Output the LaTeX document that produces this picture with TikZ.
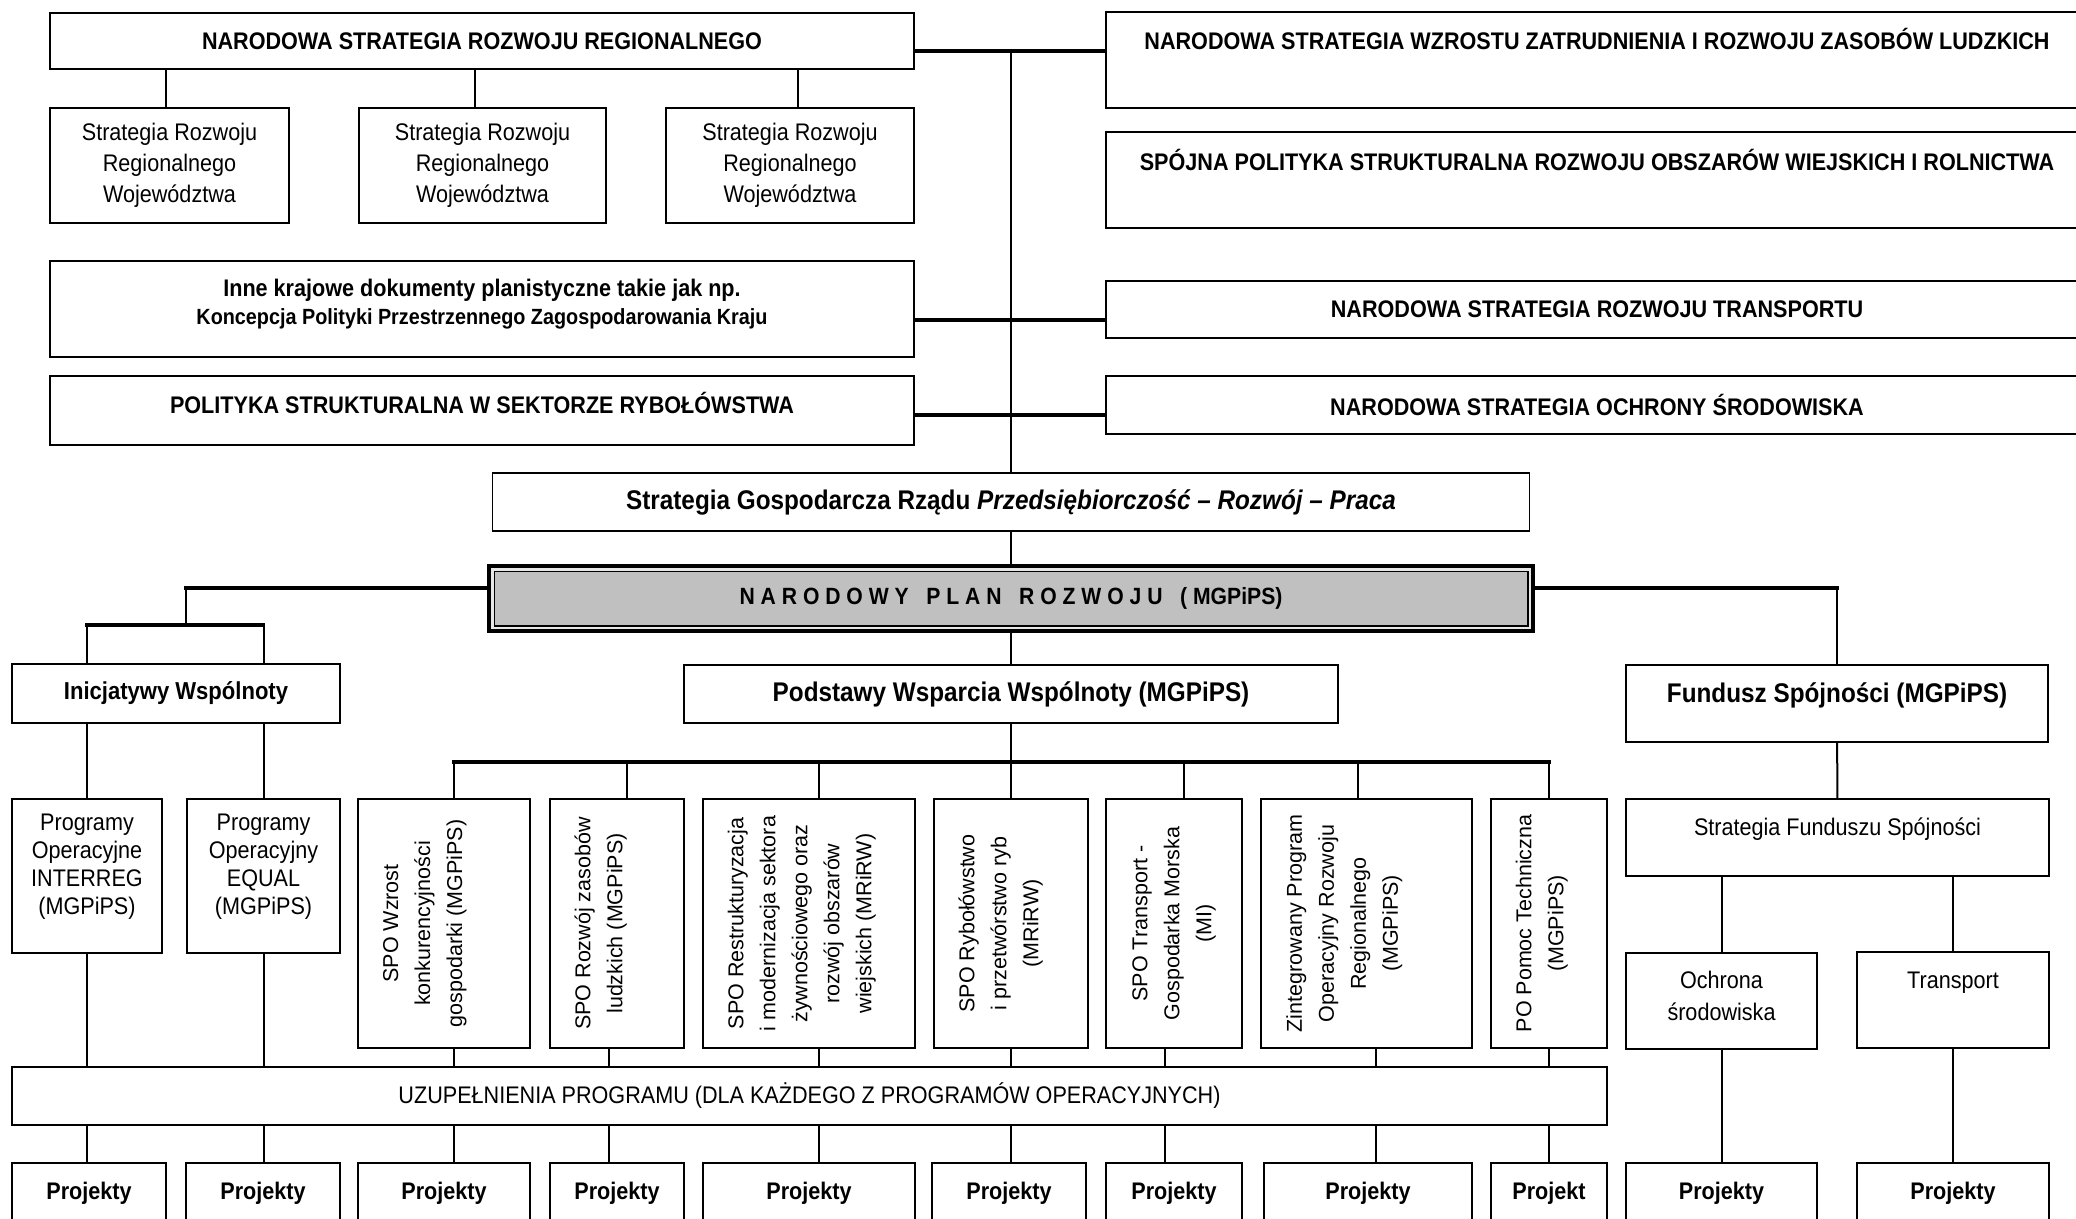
\documentclass[tikz,border=0pt]{standalone}
\usepackage{fontspec}
\setmainfont{Liberation Sans}[FakeStretch=0.9]
\newfontfamily\szeroki{Liberation Sans}
\usetikzlibrary{calc}
\definecolor{szary}{HTML}{C0C0C0}
\tikzset{every picture/.style={font issue={\fontsize{24}{31}}},
            font issue/.style={execute at begin picture={#1\selectfont}},
            box/.style={draw,line width=1.5pt,fill=white,inner sep=0pt,align=center},
            duzy/.style={font=\bfseries\fontsize{27}{31}\selectfont},
            pion/.style={box,rotate=90,font=\szeroki\fontsize{21.5}{32}\selectfont},
            gruba/.style={line width=3.5pt,line cap=rect},
            cienka/.style={line width=2pt}
        }
\begin{document}
\begin{tikzpicture}[x=1pt,y=-1pt]
      \useasboundingbox (0,0) rectangle (2076,1218);
      \clip (0,0) rectangle (2076,1218);
      % strategie krajowe
      \node[box,font=\bfseries,minimum width=864,minimum height=56] (nsrr) at (482,41) {NARODOWA STRATEGIA ROZWOJU REGIONALNEGO};
      \node[box,minimum width=239,minimum height=115] (srw1) at (169.5,165.5) {Strategia Rozwoju\\Regionalnego\\Województwa};
      \node[box,minimum width=247,minimum height=115] (srw2) at (482.5,165.5) {Strategia Rozwoju\\Regionalnego\\Województwa};
      \node[box,minimum width=248,minimum height=115] (srw3) at (790,165.5) {Strategia Rozwoju\\Regionalnego\\Województwa};
      \node[box,font=\bfseries,minimum width=864,minimum height=96,text depth=15] (inne) at (482,309) {Inne krajowe dokumenty planistyczne takie jak np.\\[-3pt]{\fontsize{22}{26}\selectfont Koncepcja Polityki Przestrzennego Zagospodarowania Kraju}};
      \node[box,font=\bfseries,minimum width=864,minimum height=69,text depth=15] (polryb) at (482,410.5) {POLITYKA STRUKTURALNA W SEKTORZE RYBOŁÓWSTWA};
      \node[box,font=\bfseries,minimum width=982,minimum height=96,text depth=42] (nszz) at (1597,60) {NARODOWA STRATEGIA WZROSTU ZATRUDNIENIA I ROZWOJU ZASOBÓW LUDZKICH};
      \node[box,font=\bfseries,minimum width=982,minimum height=96,text depth=40] (spsr) at (1597,180) {SPÓJNA POLITYKA STRUKTURALNA ROZWOJU OBSZARÓW WIEJSKICH I ROLNICTWA};
      \node[box,font=\bfseries,minimum width=982,minimum height=57] (nsrt) at (1597,309.5) {NARODOWA STRATEGIA ROZWOJU TRANSPORTU};
      \node[box,font=\bfseries,minimum width=982,minimum height=58] (nsos) at (1597,405) {NARODOWA STRATEGIA OCHRONY ŚRODOWISKA};

      % plan
      \node[box,duzy,minimum width=1037,minimum height=58] (sgr) at (1011,502) {Strategia Gospodarcza Rządu \textit{Przedsiębiorczość -- Rozwój -- Praca}};
      \node[draw,line width=8pt,fill=szary,inner sep=0pt,minimum width=1040,minimum height=61,font=\bfseries\fontsize{23.5}{30}\selectfont] (npr) at (1011,598.5) {N A R O D O W Y \ \ P L A N \ \ R O Z W O J U \ \ ( MGPiPS)};
      \draw[white!60!szary,line width=2.5pt] ($(npr.north west)+(5.25,5.25)$) rectangle ($(npr.south east)+(-5.25,-5.25)$);
      \draw[line width=1.5pt] ($(npr.north west)+(7.25,7.25)$) rectangle ($(npr.south east)+(-7.25,-7.25)$);
      \node[box,font=\bfseries\fontsize{24.5}{31}\selectfont,minimum width=328,minimum height=59] (iw) at (176,693.5) {Inicjatywy Wspólnoty};
      \node[box,duzy,minimum width=654,minimum height=58] (pww) at (1011,694) {Podstawy Wsparcia Wspólnoty (MGPiPS)};
      \node[box,duzy,minimum width=422,minimum height=77,text depth=22] (fs) at (1837,703.5) {Fundusz Spójności (MGPiPS)};

      % programy
      \node[box,font=\fontsize{24}{28}\selectfont,minimum width=150,minimum height=154,text depth=24] (prog1) at (87,876) {Programy\\Operacyjne\\INTERREG\\(MGPiPS)};
      \node[box,font=\fontsize{24}{28}\selectfont,minimum width=153,minimum height=154,text depth=24] (prog2) at (263.5,876) {Programy\\Operacyjny\\EQUAL\\(MGPiPS)};
      \node[pion,minimum width=249,minimum height=172,text depth=43] (spo1) at (444,923.5) {SPO Wzrost\\konkurencyjności\\gospodarki (MGPiPS)};
      \node[pion,minimum width=249,minimum height=134,text depth=37] (spo2) at (617,923.5) {SPO Rozwój zasobów\\ludzkich (MGPiPS)};
      \node[pion,minimum width=249,minimum height=212,text depth=19] (spo3) at (809,923.5) {SPO Restrukturyzacja\\i modernizacja sektora\\żywnościowego oraz\\rozwój obszarów\\wiejskich (MRiRW)};
      \node[pion,minimum width=249,minimum height=154,text depth=25] (spo4) at (1011,923.5) {SPO Rybołówstwo\\i przetwórstwo ryb\\(MRiRW)};
      \node[pion,minimum width=249,minimum height=136] (spo5) at (1174,923.5) {SPO Transport -\\Gospodarka Morska\\(MI)};
      \node[pion,minimum width=249,minimum height=211,text depth=49] (spo6) at (1366.5,923.5) {Zintegrowany Program\\Operacyjny Rozwoju\\Regionalnego\\(MGPiPS)};
      \node[pion,minimum width=249,minimum height=116,text depth=19] (spo7) at (1549,923.5) {PO Pomoc Techniczna\\(MGPiPS)};
      \node[box,minimum width=423,minimum height=77,text depth=22] (sfs) at (1837.5,837.5) {Strategia Funduszu Spójności};
      \node[box,font=\fontsize{24}{32}\selectfont,minimum width=191,minimum height=96,text depth=11] (ochr) at (1721.5,1001) {Ochrona\\środowiska};
      \node[box,minimum width=192,minimum height=96,text depth=40] (tran) at (1953,1000) {Transport};
      \node[box,minimum width=1595,minimum height=58] (uzup) at (809.5,1096) {UZUPEŁNIENIA PROGRAMU (DLA KAŻDEGO Z PROGRAMÓW OPERACYJNYCH)};

      % projekty
      \node[box,font=\bfseries,minimum width=154,minimum height=72,text depth=16] (p1) at (89,1199) {Projekty};
      \node[box,font=\bfseries,minimum width=154,minimum height=72,text depth=16] (p2) at (263,1199) {Projekty};
      \node[box,font=\bfseries,minimum width=172,minimum height=72,text depth=16] (p3) at (444,1199) {Projekty};
      \node[box,font=\bfseries,minimum width=134,minimum height=72,text depth=16] (p4) at (617,1199) {Projekty};
      \node[box,font=\bfseries,minimum width=212,minimum height=72,text depth=16] (p5) at (809,1199) {Projekty};
      \node[box,font=\bfseries,minimum width=154,minimum height=72,text depth=16] (p6) at (1009,1199) {Projekty};
      \node[box,font=\bfseries,minimum width=136,minimum height=72,text depth=16] (p7) at (1174,1199) {Projekty};
      \node[box,font=\bfseries,minimum width=208,minimum height=72,text depth=16] (p8) at (1368,1199) {Projekty};
      \node[box,font=\bfseries,minimum width=116,minimum height=72,text depth=16] (p9) at (1549,1199) {Projekt};
      \node[box,font=\bfseries,minimum width=191,minimum height=72,text depth=16] (p10) at (1721.5,1199) {Projekty};
      \node[box,font=\bfseries,minimum width=192,minimum height=72,text depth=16] (p11) at (1953,1199) {Projekty};

      % połączenia
      \coordinate (hub1) at (1011,51);
      \coordinate (hub2) at (1011,320);
      \coordinate (hub3) at (1011,415);
      \coordinate (lhook) at (186,588);
      \coordinate (iwbar) at (186,625);
      \coordinate (rhook) at (1837,588);
      \coordinate (bus) at (1011,762);
      \draw[cienka] (hub1) -- (sgr);
      \draw[gruba] (nsrr.east |- hub1) -- (nszz.west |- hub1);
      \draw[gruba] (inne.east |- hub2) -- (nsrt.west |- hub2);
      \draw[gruba] (polryb.east |- hub3) -- (nsos.west |- hub3);
      \foreach \s/\d in {srw1/-4,srw2/-8,srw3/8}
        \draw[cienka] ($(nsrr.south -| \s)+(\d,0)$) -- ($(\s.north)+(\d,0)$);
      \draw[cienka] (sgr) -- (npr);
      \draw[cienka] (npr) -- (pww);
      \draw[cienka] (pww) -- (bus);
      \draw[gruba] ($(bus -| spo1)+(10,0)$) -- (bus -| spo7);
      \draw[gruba] (npr.west |- lhook) -- (lhook);
      \draw[cienka] (lhook) -- (iwbar);
      \draw[gruba] (iwbar -| prog1) -- (iwbar -| prog2);
      \foreach \s/\b in {prog1/p1,prog2/p2} {
        \draw[cienka] (iwbar -| \s) -- (iw.north -| \s);
        \draw[cienka] (iw.south -| \s) -- (\s);
        \draw[cienka] (\s) -- (uzup.north -| \s);
        \draw[cienka] (uzup.south -| \s) -- (\b.north -| \s);
      }
      \draw[gruba] (npr.east |- rhook) -- (rhook);
      \draw[cienka] (rhook) -- (fs);
      \draw[cienka] (fs) -- (sfs);
      \draw[cienka] (sfs.south -| ochr) -- (ochr);
      \draw[cienka] (sfs.south -| tran) -- (tran);
      \draw[cienka] (ochr) -- (p10);
      \draw[cienka] (tran) -- (p11);
      % SPO: odsunięcia linii od środka
      \foreach \a/\b/\g/\d in {spo1/p3/10/10,spo2/p4/10/-8,spo3/p5/10/10,spo4/p6/0/0,spo5/p7/10/-9,spo6/p8/-9/9,spo7/p9/0/0} {
        \draw[cienka] ($(bus -| \a)+(\g,0)$) -- ($(\a.east)+(\g,0)$);
        \draw[cienka] ($(\a.west)+(\d,0)$) -- ($(uzup.north -| \a)+(\d,0)$);
        \draw[cienka] ($(uzup.south -| \a)+(\d,0)$) -- ($(\b.north -| \a)+(\d,0)$);
      }
    \end{tikzpicture}
\end{document}
